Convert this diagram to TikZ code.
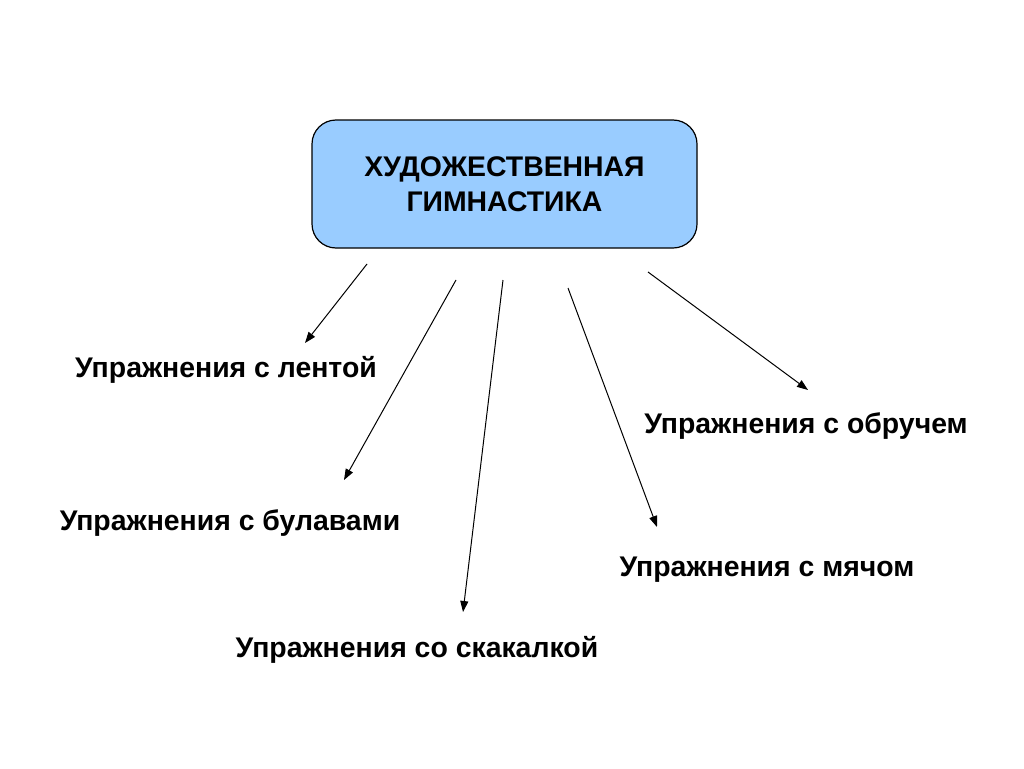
\documentclass[tikz,border=0pt]{standalone}
\usepackage{fontspec}
\setmainfont{Liberation Sans}
\usetikzlibrary{arrows.meta}
\begin{document}
\begin{tikzpicture}[x=1pt,y=-1pt,
  lbl/.style={font=\bfseries\fontsize{28.4}{32}\selectfont, inner sep=0pt},
  conn/.style={draw=black, line width=1pt, -{Triangle[length=11pt,width=8pt]}}]
\useasboundingbox (0,0) rectangle (1024,768);
\node[draw=black, line width=1.2pt, fill={rgb,255:red,153;green,204;blue,255}, rounded corners=24pt,
  minimum width=385pt, minimum height=128pt, align=center,
  font=\bfseries\fontsize{28.4}{35}\selectfont] (main) at (504.5,184) {\raisebox{-2pt}{\parbox{300pt}{\centering ХУДОЖЕСТВЕННАЯ\\ГИМНАСТИКА}}};
\node[lbl] (lenta) at (226,370) {Упражнения с лентой};
\node[lbl] (bulavy) at (230,523) {Упражнения с булавами};
\node[lbl] (skak) at (417,650) {Упражнения со скакалкой};
\node[lbl] (myach) at (767,570) {Упражнения с мячом};
\node[lbl] (obruch) at (806,426) {Упражнения с обручем};
\coordinate (s1) at (367,264); \coordinate (e1) at (305,343);
\coordinate (s2) at (456,280); \coordinate (e2) at (344,480);
\coordinate (s3) at (503,280); \coordinate (e3) at (463,612);
\coordinate (s4) at (568,288); \coordinate (e4) at (657,527);
\coordinate (s5) at (648,272); \coordinate (e5) at (808,390);
\draw[conn] (s1) -- (e1);
\draw[conn] (s2) -- (e2);
\draw[conn] (s3) -- (e3);
\draw[conn] (s4) -- (e4);
\draw[conn] (s5) -- (e5);
\end{tikzpicture}
\end{document}
